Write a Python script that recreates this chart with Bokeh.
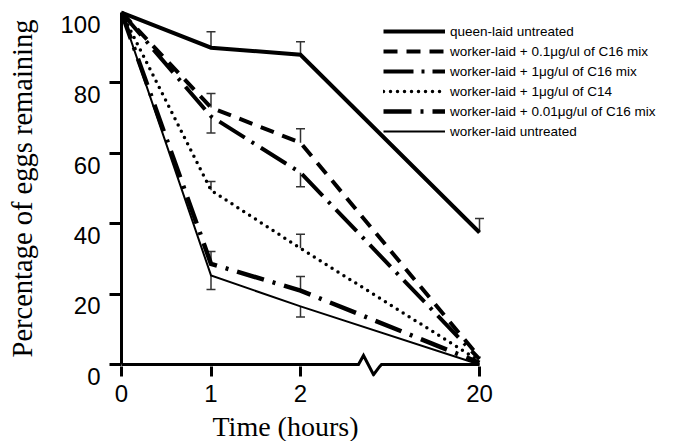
from bokeh.plotting import figure
from bokeh.models import (Range1d, FixedTicker, Legend, LegendItem, Whisker, TeeHead,
                          ColumnDataSource, PolyAnnotation, LinearAxis, Title)
from bokeh.embed import file_html
from bokeh.resources import INLINE

# ---------------- data ----------------
hours = [0, 1, 2, 20]
x_tick_labels = ["0", "1", "2", "20"]
y_ticks = [0, 20, 40, 60, 80, 100]
y_tick_marks = [0, 20, 40, 60, 80]

series_labels = [
    "queen-laid untreated",
    "worker-laid + 0.1\u03bcg/ul of C16 mix",
    "worker-laid + 1\u03bcg/ul of C16 mix",
    "worker-laid + 1\u03bcg/ul of C14",
    "worker-laid + 0.01\u03bcg/ul of C16 mix",
    "worker-laid untreated",
]
queen_untreated = [100, 90, 88, 37.5]
queen_untreated_err = [0, 4.5, 3.7, 4]
c16_0p1 = [100, 73, 63, 2]
c16_0p1_err = [0, 4, 4, 0]
c16_1 = [100, 70.5, 54.5, 1.5]
c16_1_err = [0, 4.7, 4, 0]
c14_1 = [100, 49.5, 33, 1]
c14_1_err = [0, 2.5, 4, 0]
c16_0p01 = [100, 28.6, 21, 0.5]
c16_0p01_err = [0, 3.5, 4, 0]
worker_untreated = [100, 25.3, 16.5, 0]
worker_untreated_err = [0, 4, 3, 0]
err_direction = ["up", "up", "down", "up", "up", "down"]

values = [queen_untreated, c16_0p1, c16_1, c14_1, c16_0p01, worker_untreated]
errors = [queen_untreated_err, c16_0p1_err, c16_1_err, c14_1_err, c16_0p01_err, worker_untreated_err]

# ---------------- styles ----------------
styles = [
    dict(line_width=4, line_dash="solid", line_cap="butt"),
    dict(line_width=4, line_dash="14 9", line_cap="butt"),
    dict(line_width=4, line_dash="30 8 3 8", line_cap="butt"),
    dict(line_width=3.5, line_dash="0 7", line_cap="round"),
    dict(line_width=4.5, line_dash="28 9 3 9", line_cap="butt"),
    dict(line_width=2, line_dash="solid", line_cap="butt"),
]


def brk(h):
    # broken time axis: 0-2 h linear, then compressed gap up to 20 h
    return h if h <= 2 else 2 + (h - 2) / 9.0


xs = [brk(h) for h in hours]

PX_PER_Y = 3.52
FRAME_H = 376
FRAME_W = 554
Y_BOTTOM = -(FRAME_H - 364) / PX_PER_Y
Y_TOP = 100 + 12 / PX_PER_Y
X_END = FRAME_W / 89.5

p = figure(width=675, height=441, frame_width=FRAME_W, frame_height=FRAME_H,
           x_range=Range1d(0, X_END), y_range=Range1d(Y_BOTTOM, Y_TOP),
           output_backend="svg", toolbar_location=None,
           min_border_left=121, min_border_right=0, min_border_top=0,
           min_border_bottom=0)
p.outline_line_color = None
p.grid.visible = False
p.background_fill_color = "white"

items = []
for lab, vals, errs, d, st in zip(series_labels, values, errors, err_direction, styles):
    r = p.line(xs, vals, line_color="black", line_join="miter", **st)
    items.append(LegendItem(label=lab, renderers=[r]))
    bx, lo, hi = [], [], []
    for xv, v, e in zip(xs, vals, errs):
        if e > 0:
            bx.append(xv)
            if d == "up":
                lo.append(v)
                hi.append(v + e)
            else:
                lo.append(v - e)
                hi.append(v)
    src = ColumnDataSource(dict(x=bx, lo=lo, hi=hi))
    head = TeeHead(size=9, line_width=1.5, line_color="#333333")
    w = Whisker(source=src, base="x", lower="lo", upper="hi", dimension="height",
                line_color="#333333", line_width=1.5,
                upper_head=head if d == "up" else None,
                lower_head=head if d == "down" else None)
    p.add_layout(w)

# x axis line with break (zig-zag)
bx0 = 2.79
zx = [0, bx0 - 0.142, bx0 - 0.086, bx0 + 0.026, bx0 + 0.093, bx0 + 0.115, brk(hours[-1])]
zy = [0, 0, 2.56, -2.9, -0.6, 0, 0]
poly_x = zx + zx[-2:0:-1]
poly_y = zy + zy[-2:0:-1]
p.add_layout(PolyAnnotation(xs=poly_x, ys=poly_y, line_color="black", line_alpha=1.0,
                            line_width=3, fill_alpha=0, line_join="miter"))

# x axis: ticks hang below the drawn axis line
xa = p.xaxis[0]
xa.bounds = (0, brk(hours[-1]))
xa.ticker = FixedTicker(ticks=xs)
xa.major_label_overrides = {float(x): t for x, t in zip(xs, x_tick_labels)}
xa.axis_line_color = None
xa.major_tick_line_width = 3
xa.major_tick_line_color = "black"
xa.major_tick_in = 10
xa.major_tick_out = 0
xa.minor_tick_line_color = None
xa.major_label_text_font = "Liberation Sans"
xa.major_label_text_font_size = "24px"
xa.major_label_text_color = "black"
xa.major_label_standoff = 8

p.add_layout(Title(text="Time (hours)", align="left", offset=91, standoff=12,
                   vertical_align="top", text_font="Liberation Serif",
                   text_font_size="28px", text_font_style="normal",
                   text_color="black"), "below")

# y axis: line + ticks
ya = p.yaxis[0]
ya.bounds = (0, 100)
ya.ticker = FixedTicker(ticks=y_tick_marks)
ya.major_label_overrides = {float(v): "" for v in y_tick_marks}
ya.major_label_standoff = 0
ya.axis_line_width = 3
ya.axis_line_color = "black"
ya.major_tick_line_width = 3
ya.major_tick_line_color = "black"
ya.major_tick_out = 12
ya.major_tick_in = 0
ya.minor_tick_line_color = None

# y tick labels sit a little below their ticks in the original
LABEL_SHIFT = 11.8 / PX_PER_Y
p.extra_y_ranges = {"lbl": Range1d(Y_BOTTOM + LABEL_SHIFT, Y_TOP + LABEL_SHIFT)}
yl = LinearAxis(y_range_name="lbl", ticker=FixedTicker(ticks=y_ticks))
yl.axis_line_color = None
yl.major_tick_line_color = None
yl.major_tick_in = 0
yl.major_tick_out = 0
yl.minor_tick_line_color = None
yl.major_label_text_font = "Liberation Sans"
yl.major_label_text_font_size = "24px"
yl.major_label_text_color = "black"
yl.major_label_standoff = 9
yl.axis_label = "Percentage of eggs remaining"
yl.axis_label_text_font = "Liberation Serif"
yl.axis_label_text_font_size = "28.5px"
yl.axis_label_text_font_style = "normal"
yl.axis_label_text_color = "black"
yl.axis_label_standoff = 19
p.add_layout(yl, "left")

legend = Legend(items=items, location=(262, FRAME_H - 141), orientation="vertical",
                glyph_width=62, glyph_height=20, label_height=20, spacing=0,
                label_standoff=5, padding=0, margin=0,
                border_line_color=None, background_fill_alpha=0,
                label_text_font="Liberation Sans", label_text_font_size="13.5px",
                label_text_color="black")
p.add_layout(legend)

open("out.html", "w").write(file_html(p, INLINE))
